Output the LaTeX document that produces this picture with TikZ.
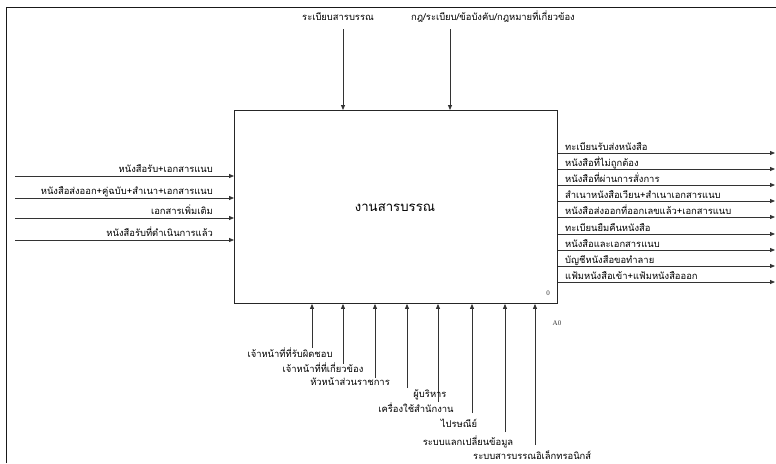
\documentclass[tikz,border=0pt]{standalone}
\usepackage{fontspec}
\setmainfont{Liberation Serif}
\newfontfamily\thai[Script=Thai]{Loma}
\usetikzlibrary{arrows.meta}
\begin{document}
\begin{tikzpicture}[x=1pt,y=-1pt,
  flow/.style={draw=black!80, line width=0.8pt, -{Triangle[length=5pt,width=4pt]}},
  lbl/.style={font=\thai\fontsize{9.4}{10}\selectfont, inner sep=0pt, text=black},
  activity/.style={draw=black!85, line width=0.9pt, minimum width=323pt, minimum height=193pt, inner sep=0pt},
  tag/.style={font=\fontsize{7}{8}\selectfont, inner sep=0pt, text=black!80}]
\useasboundingbox (0,0) rectangle (776,463);
% outer frame (top and left edges)
\draw[line width=1pt, black!90] (6.5,463) -- (6.5,7) -- (776,7);

% the activity box
\node[activity, anchor=north west] (act) at (234,110) {};
\node[font=\thai\fontsize{13.2}{15}\selectfont, inner sep=0pt] (title) at (395,208) {งานสารบรรณ};
\node[tag] (num) at (548,293) {0};
\node[tag] (code) at (557,323) {A0};

% controls (top)
\coordinate (c1) at (343,29);
\coordinate (c2) at (450,29);
\draw[flow] (c1) -- (c1 |- act.north);
\draw[flow] (c2) -- (c2 |- act.north);
\node[lbl] (lc1) at (338,17) {ระเบียบสารบรรณ};
\node[lbl] (lc2) at (493,17) {กฎ/ระเบียบ/ข้อบังคับ/กฎหมายที่เกี่ยวข้อง};

% inputs (left)
\foreach \n/\y/\t in {1/176/หนังสือรับ+เอกสารแนบ,
                      2/198/หนังสือส่งออก+คู่ฉบับ+สำเนา+เอกสารแนบ,
                      3/218/เอกสารเพิ่มเติม,
                      4/240/หนังสือรับที่ดำเนินการแล้ว}{
  \coordinate (i\n) at (15,\y);
  \draw[flow] (i\n) -- (i\n -| act.west);
  \node[lbl, anchor=base east] (li\n) at (213,\y-4) {\t};
}

% outputs (right)
\foreach \n/\y/\t in {1/153/ทะเบียนรับส่งหนังสือ,
                      2/169/หนังสือที่ไม่ถูกต้อง,
                      3/185/หนังสือที่ผ่านการสั่งการ,
                      4/201/สำเนาหนังสือเวียน+สำเนาเอกสารแนบ,
                      5/217/หนังสือส่งออกที่ออกเลขแล้ว+เอกสารแนบ,
                      6/234/ทะเบียนยืมคืนหนังสือ,
                      7/250/หนังสือและเอกสารแนบ,
                      8/266/บัญชีหนังสือขอทำลาย,
                      9/282/แฟ้มหนังสือเข้า+แฟ้มหนังสือออก}{
  \coordinate (o\n) at (775,\y);
  \draw[flow] (act.east |- o\n) -- (o\n);
  \node[lbl, anchor=base west] (lo\n) at (565,\y-3) {\t};
}

% mechanisms (bottom)
\foreach \n/\x/\y in {1/312/348, 2/343/364, 3/375/378, 4/407/388,
                      5/438/402, 6/472/413, 7/505/432, 8/535/445}{
  \coordinate (m\n) at (\x,\y);
  \draw[flow] (m\n) -- (m\n |- act.south);
}
\node[lbl] (lm1) at (290,353) {เจ้าหน้าที่ที่รับผิดชอบ};
\node[lbl] (lm2) at (323,368) {เจ้าหน้าที่ที่เกี่ยวข้อง};
\node[lbl, anchor=east] (lm3) at (390,382) {หัวหน้าส่วนราชการ};
\node[lbl] (lm4) at (430,395) {ผู้บริหาร};
\node[lbl] (lm5) at (416,408) {เครื่องใช้สำนักงาน};
\node[lbl] (lm6) at (459,423) {ไปรษณีย์};
\node[lbl] (lm7) at (468,442) {ระบบแลกเปลี่ยนข้อมูล};
\node[lbl, anchor=west] (lm8) at (473,455) {ระบบสารบรรณอิเล็กทรอนิกส์};
\end{tikzpicture}
\end{document}
